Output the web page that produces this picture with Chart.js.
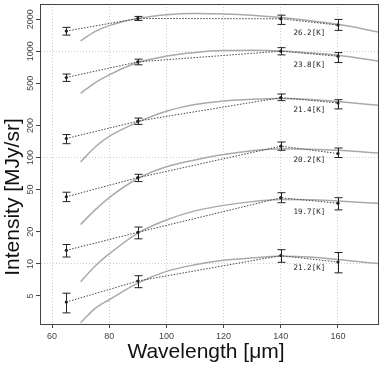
<!DOCTYPE html>
<html>
<head>
<meta charset="utf-8">
<script src="https://cdn.jsdelivr.net/npm/chart.js@4.4.0/dist/chart.umd.min.js"></script>
<style>
  html, body { margin: 0; padding: 0; background: #fff; }
  #wrap { width: 382px; height: 365px; }
</style>
</head>
<body>
<div id="wrap"><canvas id="chartSed"></canvas></div>
<script>
// observed bands and the six pixels (top to bottom)
const bands = [65, 90, 140, 160];
const tempLabels = ['26.2[K]', '23.8[K]', '21.4[K]', '20.2[K]', '19.7[K]', '21.2[K]'];

const obs1 = [1547, 2033, 2018, 1762];
const obs2 = [566, 794, 1000, 898];
const obs3 = [151, 220, 366, 326];
const obs4 = [42.8, 64.6, 128, 109];
const obs5 = [13.4, 19.8, 41.9, 37.2];
const obs6 = [4.37, 6.9, 11.96, 10.4];

const low1 = [1418, 1948, 1787, 1570];
const low2 = [520, 745, 924, 782];
const low3 = [135, 205, 343, 287];
const low4 = [38.5, 59.4, 117, 100];
const low5 = [11.6, 17.2, 37.6, 32.2];
const low6 = [3.46, 5.97, 10.35, 8.24];

const high1 = [1676, 2125, 2183, 1991];
const high2 = [610, 842, 1080, 970];
const high3 = [164.5, 235, 396, 350];
const high4 = [47.2, 69.6, 140, 123];
const high5 = [15.2, 22.2, 46.7, 41.9];
const high6 = [5.3, 7.74, 13.6, 12.8];

// fitted curves
const fitX = [70, 75, 80, 90, 100, 110, 120, 130, 140, 150, 160, 175];
const fit1 = [1250, 1530, 1740, 2030, 2200, 2260, 2240, 2180, 2070, 1940, 1790, 1500];
const fit2 = [402, 505, 600, 782, 900, 975, 1015, 1020, 1006, 965, 915, 800];
const fit3 = [91, 125, 158, 215, 272, 315, 340, 354, 360, 352, 336, 308];
const fit4 = [23.5, 32, 42, 63.5, 82, 95, 107, 116, 121, 120, 117, 110];
const fit5 = [6.8, 9.5, 12.4, 19.5, 25.9, 31.5, 35.5, 38.5, 40.3, 40.2, 39, 37];
const fit6 = [2.8, 3.8, 4.6, 6.6, 8.5, 9.8, 10.8, 11.4, 11.8, 11.6, 11.0, 10.0];

// where the temperature labels sit
const labelX = 150;
const labelY = [1483, 745, 282, 94.4, 30.8, 9.04];

const xTicks = [60, 80, 100, 120, 140, 160];
const yTicks = [5, 10, 20, 50, 100, 200, 500, 1000, 2000];
const yGrid = [10, 100, 1000];

const obsAll = [obs1, obs2, obs3, obs4, obs5, obs6];
const lowAll = [low1, low2, low3, low4, low5, low6];
const highAll = [high1, high2, high3, high4, high5, high6];
const fitAll = [fit1, fit2, fit3, fit4, fit5, fit6];

const axisColor = '#444';
const labelFont = '"Liberation Sans", Arial, sans-serif';

const datasets = [];
fitAll.forEach(function(f) {
    datasets.push({
        type: 'line',
        data: fitX.map((x, i) => ({ x: x, y: f[i] })),
        borderColor: '#aaaaaa',
        borderWidth: 1.5,
        pointRadius: 0,
        cubicInterpolationMode: 'monotone',
        fill: false,
        order: 2
    });
});
obsAll.forEach(function(o) {
    datasets.push({
        type: 'line',
        data: bands.map((x, i) => ({ x: x, y: o[i] })),
        borderColor: '#444',
        borderWidth: 1,
        borderDash: [1.5, 1.5],
        pointRadius: 1.6,
        pointBackgroundColor: '#222',
        pointBorderWidth: 0,
        tension: 0,
        fill: false,
        order: 1
    });
});

// error bars, frame, temperature labels, axis titles
const extras = {
    id: 'extras',
    afterDatasetsDraw(chart) {
        const ctx = chart.ctx;
        const xs = chart.scales.x, ys = chart.scales.y;
        const area = chart.chartArea;
        ctx.save();
        ctx.strokeStyle = '#222';
        ctx.lineWidth = 1;
        lowAll.forEach(function(lows, s) {
            lows.forEach(function(lo, i) {
                const px = Math.round(xs.getPixelForValue(bands[i])) + 0.5;
                const y1 = ys.getPixelForValue(lo);
                const y2 = ys.getPixelForValue(highAll[s][i]);
                ctx.beginPath();
                ctx.moveTo(px, y1); ctx.lineTo(px, y2);
                ctx.moveTo(px - 4, y1); ctx.lineTo(px + 4, y1);
                ctx.moveTo(px - 4, y2); ctx.lineTo(px + 4, y2);
                ctx.stroke();
            });
        });

        ctx.fillStyle = '#222';
        ctx.font = '7.5px "DejaVu Sans Mono", monospace';
        ctx.textAlign = 'center';
        ctx.textBaseline = 'middle';
        tempLabels.forEach(function(t, s) {
            ctx.fillText(t, xs.getPixelForValue(labelX), ys.getPixelForValue(labelY[s]));
        });

        ctx.strokeStyle = axisColor;
        ctx.lineWidth = 1;
        ctx.strokeRect(Math.round(area.left) + 0.5, Math.round(area.top) + 0.5,
            Math.round(area.right - area.left), Math.round(area.bottom - area.top));

        ctx.fillStyle = '#111';
        ctx.font = '21px ' + labelFont;
        ctx.textAlign = 'center';
        ctx.textBaseline = 'alphabetic';
        ctx.fillText('Wavelength [μm]', 206, 358);
        ctx.translate(19, 197);
        ctx.rotate(-Math.PI / 2);
        ctx.fillText('Intensity [MJy/sr]', 0, 0);
        ctx.restore();
    }
};

new Chart(document.getElementById('chartSed'), {
    type: 'line',
    data: { datasets: datasets },
    options: {
        responsive: true,
        maintainAspectRatio: false,
        animation: false,
        layout: { padding: { left: 0, right: 4, top: 3, bottom: 0 } },
        plugins: { legend: { display: false }, tooltip: { enabled: false } },
        scales: {
            x: {
                type: 'linear',
                min: 55.8,
                max: 174,
                afterBuildTicks: s => { s.ticks = xTicks.map(v => ({ value: v })); },
                afterFit: s => { s.height = 41; },
                grid: { color: '#cccccc', tickColor: axisColor, tickLength: 4 },
                border: { color: axisColor, width: 1, dash: [1, 2] },
                ticks: { color: '#444', font: { family: labelFont, size: 9 }, padding: 3, maxRotation: 0 }
            },
            y: {
                type: 'logarithmic',
                min: 2.72,
                max: 2780,
                afterBuildTicks: s => { s.ticks = yTicks.map(v => ({ value: v })); },
                afterFit: s => { s.width = 40; },
                grid: {
                    color: c => (c.tick && yGrid.includes(c.tick.value)) ? '#cccccc' : 'rgba(0,0,0,0)',
                    tickColor: axisColor,
                    tickLength: 4
                },
                border: { color: axisColor, width: 1, dash: [1, 2] },
                ticks: {
                    color: '#444',
                    font: { family: labelFont, size: 9 },
                    minRotation: 90,
                    maxRotation: 90,
                    crossAlign: 'center',
                    padding: -5,
                    callback: v => String(v)
                }
            }
        }
    },
    plugins: [extras]
});
</script>
</body>
</html>
